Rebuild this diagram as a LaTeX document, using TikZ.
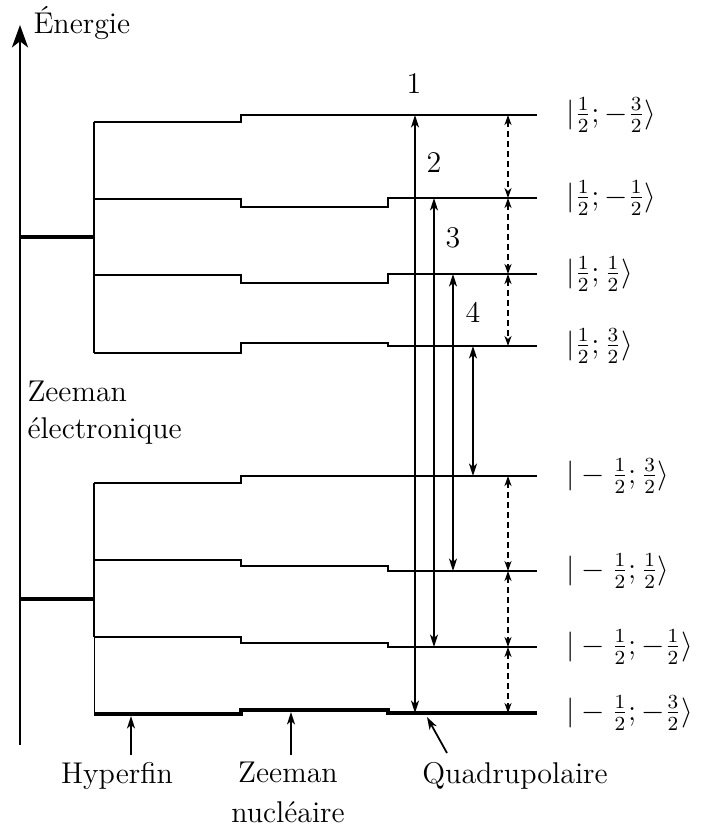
\documentclass[tikz,border=0pt,12pt]{standalone}
\usepackage{fontspec}
\usetikzlibrary{arrows.meta}
\tikzset{
  lvl/.style={line width=0.75pt},
  thk/.style={line width=1.3pt},
  axisline/.style={line width=0.8pt,-{Stealth[length=9pt,width=6.5pt,inset=2.5pt]}},
  trans/.style={line width=0.75pt,{Stealth[length=5pt,width=3.2pt,inset=1.4pt]}-{Stealth[length=5pt,width=3.2pt,inset=1.4pt]}},
  dtrans/.style={line width=0.7pt,dash pattern=on 2.4pt off 1.6pt,{Stealth[length=4pt,width=2.8pt,inset=1.2pt]}-{Stealth[length=4pt,width=2.8pt,inset=1.2pt]}},
  pointer/.style={line width=0.7pt,-{Stealth[length=5pt,width=3.2pt,inset=1.4pt]}},
  lab/.style={inner sep=0pt},
  ket/.style={inner sep=0pt,anchor=west}
}
\begin{document}
\begin{tikzpicture}[x=0.4pt,y=-0.4pt]
\useasboundingbox (0,0) rectangle (703,827);
% energy axis
\coordinate (ax0) at (20,745);
\coordinate (ax1) at (20,25);
\draw[axisline] (ax0) -- (ax1);
\node[lab,anchor=base west] (energie) at (33,33) {Énergie};
% electronic Zeeman levels
\coordinate (eu0) at (20,237); \coordinate (eu1) at (94,237);
\coordinate (el0) at (20,599); \coordinate (el1) at (94,599);
\draw[thk] (eu0) -- (eu1);
\draw[thk] (el0) -- (el1);
% hyperfine splitting verticals
\draw[lvl] (94,122) -- (94,353);
\draw[lvl] (94,483) -- (94,637);
\draw[line width=0.4pt] (94,637) -- (94,714);
% upper levels
\draw[lvl] (94,122) -- (241,122) -- (241,115) -- (388,115) -- (388,115) -- (537,115);
\draw[lvl] (94,199) -- (241,199) -- (241,207) -- (388,207) -- (388,198) -- (537,198);
\draw[lvl] (94,275) -- (241,275) -- (241,283) -- (388,283) -- (388,274) -- (537,274);
\draw[lvl] (94,353) -- (241,353) -- (241,343) -- (388,343) -- (388,346) -- (537,346);
% lower levels
\draw[lvl] (94,483) -- (241,483) -- (241,476) -- (388,476) -- (388,476) -- (537,476);
\draw[lvl] (94,560) -- (241,560) -- (241,566) -- (388,566) -- (388,571) -- (537,571);
\draw[lvl] (94,637) -- (241,637) -- (241,643) -- (388,643) -- (388,647) -- (537,647);
\draw[thk] (94,714) -- (241,714) -- (241,710) -- (388,710) -- (388,713) -- (537,713);
% transitions
\coordinate (t1a) at (415,713); \coordinate (t1b) at (415,115);
\coordinate (t2a) at (434,647); \coordinate (t2b) at (434,198);
\coordinate (t3a) at (453,571); \coordinate (t3b) at (453,274);
\coordinate (t4a) at (473,476); \coordinate (t4b) at (473,346);
\draw[trans] (t1a) -- (t1b);
\draw[trans] (t2a) -- (t2b);
\draw[trans] (t3a) -- (t3b);
\draw[trans] (t4a) -- (t4b);
\node[lab] (n1) at (414,84) {1};
\node[lab] (n2) at (434,163) {2};
\node[lab] (n3) at (453,238) {3};
\node[lab] (n4) at (473,312) {4};
% dashed transitions
\coordinate (d1) at (508,115);
\coordinate (d2) at (508,198);
\coordinate (d3) at (508,274);
\coordinate (d4) at (508,346);
\coordinate (d5) at (508,476);
\coordinate (d6) at (508,571);
\coordinate (d7) at (508,647);
\coordinate (d8) at (508,713);
\draw[dtrans] (d1) -- (d2);
\draw[dtrans] (d2) -- (d3);
\draw[dtrans] (d3) -- (d4);
\draw[dtrans] (d5) -- (d6);
\draw[dtrans] (d6) -- (d7);
\draw[dtrans] (d7) -- (d8);
% kets
\node[ket] (k1) at (566,115) {$|\frac{1}{2};-\frac{3}{2}\rangle$};
\node[ket] (k2) at (566,198) {$|\frac{1}{2};-\frac{1}{2}\rangle$};
\node[ket] (k3) at (566,274) {$|\frac{1}{2};\frac{1}{2}\rangle$};
\node[ket] (k4) at (566,346) {$|\frac{1}{2};\frac{3}{2}\rangle$};
\node[ket] (k5) at (566,476) {$|-\frac{1}{2};\frac{3}{2}\rangle$};
\node[ket] (k6) at (566,571) {$|-\frac{1}{2};\frac{1}{2}\rangle$};
\node[ket] (k7) at (566,647) {$|-\frac{1}{2};-\frac{1}{2}\rangle$};
\node[ket] (k8) at (566,713) {$|-\frac{1}{2};-\frac{3}{2}\rangle$};
% Zeeman electronique label
\node[lab,anchor=base west,align=left] (zel) at (27,438) {Zeeman\\électronique};
% bottom labels with pointers
\node[lab,anchor=base] (hyp) at (117,783) {Hyperfin};
\node[lab,anchor=base,align=center] (zn) at (288,822) {Zeeman\\[1.2pt]nucléaire};
\node[lab,anchor=base] (quad) at (515,783) {Quadrupolaire};
\coordinate (ph0) at (131,755); \coordinate (ph1) at (131,716);
\coordinate (pz0) at (291,755); \coordinate (pz1) at (291,712);
\coordinate (pq0) at (447,753); \coordinate (pq1) at (427,717);
\draw[pointer] (ph0) -- (ph1);
\draw[pointer] (pz0) -- (pz1);
\draw[pointer] (pq0) -- (pq1);
\end{tikzpicture}
\end{document}
